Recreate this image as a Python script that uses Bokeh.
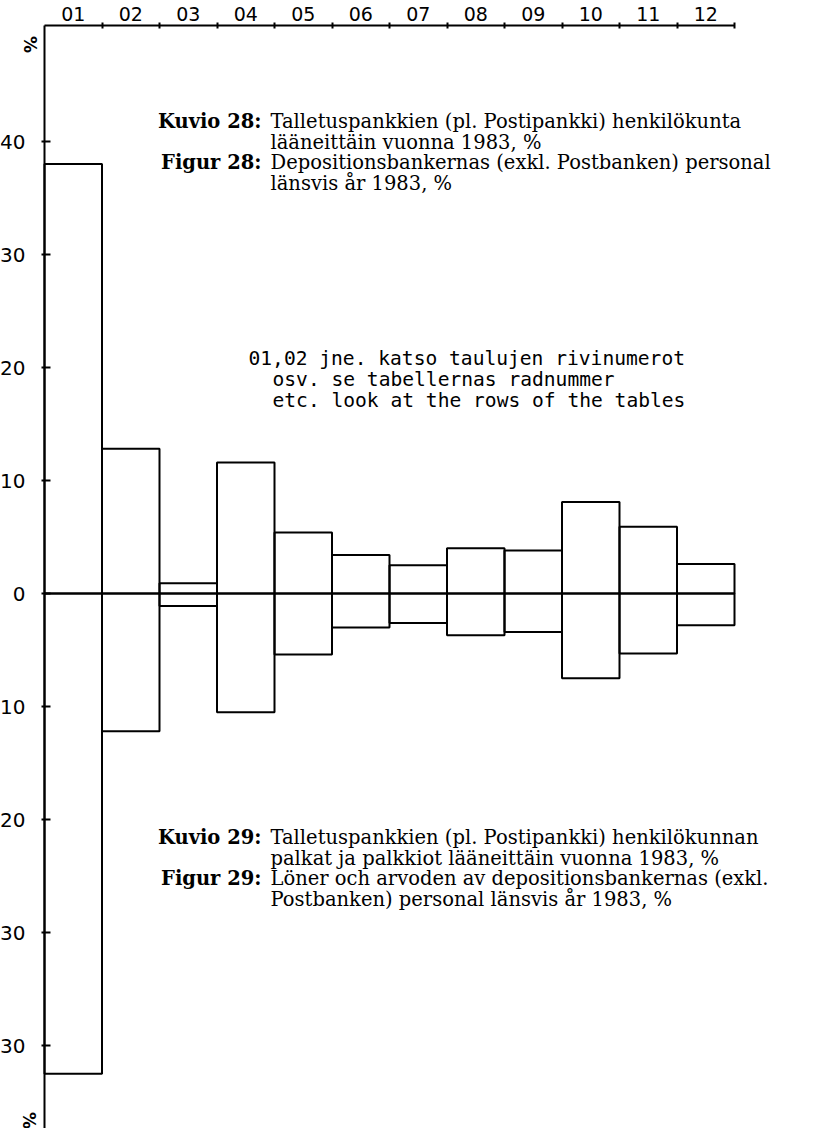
import math
from bokeh.plotting import figure
from bokeh.models import Range1d, FixedTicker
from bokeh.embed import file_html
from bokeh.resources import INLINE
from bokeh.core.properties import value

# ---- data ----
regions = ["01", "02", "03", "04", "05", "06", "07", "08", "09", "10", "11", "12"]
staff_pct = [38.0, 12.8, 0.9, 11.6, 5.4, 3.4, 2.5, 4.0, 3.8, 8.1, 5.9, 2.6]   # Kuvio 28 (up)
wages_pct = [42.5, 12.2, 1.1, 10.5, 5.4, 3.0, 2.6, 3.7, 3.4, 7.5, 5.3, 2.8]   # Kuvio 29 (down)
ytick_vals = [40, 30, 20, 10, 0, -10, -20, -30, -40]
ytick_labels = ["40", "30", "20", "10", "0", "10", "20", "30", "30"]

title28_fi = ["Talletuspankkien (pl. Postipankki) henkilökunta", "lääneittäin vuonna 1983, %"]
title28_sv = ["Depositionsbankernas (exkl. Postbanken) personal", "länsvis år 1983, %"]
title29_fi = ["Talletuspankkien (pl. Postipankki) henkilökunnan", "palkat ja palkkiot lääneittäin vuonna 1983, %"]
title29_sv = ["Löner och arvoden av depositionsbankernas (exkl.", "Postbanken) personal länsvis år 1983, %"]
note_lines = ["01,02 jne. katso taulujen rivinumerot",
              "osv. se tabellernas radnummer",
              "etc. look at the rows of the tables"]

# ---- layout: page pixel <-> data mapping ----
W, H = 805, 1128
PAGE0 = 8                 # page margin
AX_X, AX_Y = 52, 33       # page px of the left / top axis lines
ZERO_Y = 601              # page px of y = 0
PX_PER_X = 57.5
PX_PER_Y = 11.3


def dx(px):
    return (px - AX_X) / PX_PER_X


def dy(py):
    return (ZERO_Y - py) / PX_PER_Y


p = figure(width=W, height=H,
           x_range=Range1d(dx(PAGE0), dx(PAGE0 + W)),
           y_range=Range1d(dy(PAGE0 + H), dy(PAGE0)),
           x_axis_location="above", output_backend="svg", toolbar_location=None,
           min_border_left=0, min_border_top=0, min_border_right=0, min_border_bottom=0)
p.outline_line_color = None
p.grid.visible = False
p.background_fill_color = "white"
p.border_fill_color = "white"

n = len(regions)
lefts = list(range(n))
rights = [i + 1 for i in range(n)]
zeros = [0] * n
neg_wages = [-v for v in wages_pct]

p.quad(left=lefts, right=rights, bottom=zeros, top=staff_pct,
       fill_color=None, line_color="black", line_width=2)
p.quad(left=lefts, right=rights, bottom=neg_wages, top=zeros,
       fill_color=None, line_color="black", line_width=2)

# top axis (fixed at the top line)
xa = p.xaxis[0]
centers = [i + 0.5 for i in range(n)]
xa.fixed_location = dy(AX_Y)
xa.ticker = FixedTicker(ticks=centers, minor_ticks=[i + 1 for i in range(n)])
xa.major_label_overrides = {c: r for c, r in zip(centers, regions)}
xa.major_tick_line_color = None
xa.major_tick_out = 0
xa.major_tick_in = 0
xa.minor_tick_in = 3
xa.minor_tick_out = 3
xa.minor_tick_line_width = 2
xa.minor_tick_line_color = "black"
xa.axis_line_width = 2
xa.bounds = (0, n)
xa.major_label_standoff = 2
xa.major_label_text_font = "DejaVu Sans"
xa.major_label_text_font_size = "19px"
xa.major_label_text_color = "black"

# left axis (fixed at x = 0)
ya = p.yaxis[0]
ya.fixed_location = 0
ya.ticker = FixedTicker(ticks=ytick_vals)
ya.major_label_overrides = {v: l for v, l in zip(ytick_vals, ytick_labels)}
ya.major_tick_in = 6
ya.major_tick_out = 3
ya.major_tick_line_width = 2
ya.minor_tick_line_color = None
ya.axis_line_width = 2
ya.bounds = (dy(PAGE0 + H), dy(AX_Y))
ya.major_label_standoff = 16
ya.major_label_text_font = "DejaVu Sans"
ya.major_label_text_font_size = "20px"
ya.major_label_text_color = "black"

# percent signs beside the axis ends
p.text(x=[dx(37), dx(36)], y=[dy(52), dy(1128)], text=["%", "%"], angle=-math.pi / 2,
       text_font=value("DejaVu Sans"), text_font_size="17px", text_font_style="bold",
       text_align="center", text_baseline="middle", text_color="black")

serif = value("DejaVu Serif")
fs = "19.5px"
pitch = 20.5


def block(label1, label2, fi, sv, y0):
    ys = [y0 + k * pitch for k in range(4)]
    p.text(x=[dx(269)] * 2, y=[dy(ys[0]), dy(ys[2])], text=[label1, label2],
           text_font=serif, text_font_size=fs, text_font_style="bold",
           text_align="right", text_baseline="middle", text_color="black")
    p.text(x=[dx(278)] * 4, y=[dy(v) for v in ys], text=fi + sv,
           text_font=serif, text_font_size=fs,
           text_align="left", text_baseline="middle", text_color="black")


block("Kuvio 28:", "Figur 28:", title28_fi, title28_sv, 129)
block("Kuvio 29:", "Figur 29:", title29_fi, title29_sv, 845)

p.text(x=[dx(256), dx(280), dx(280)], y=[dy(366), dy(387), dy(408)], text=note_lines,
       text_font=value("DejaVu Sans Mono"), text_font_size="19.6px",
       text_align="left", text_baseline="middle", text_color="black")

open("out.html", "w").write(file_html(p, INLINE))
